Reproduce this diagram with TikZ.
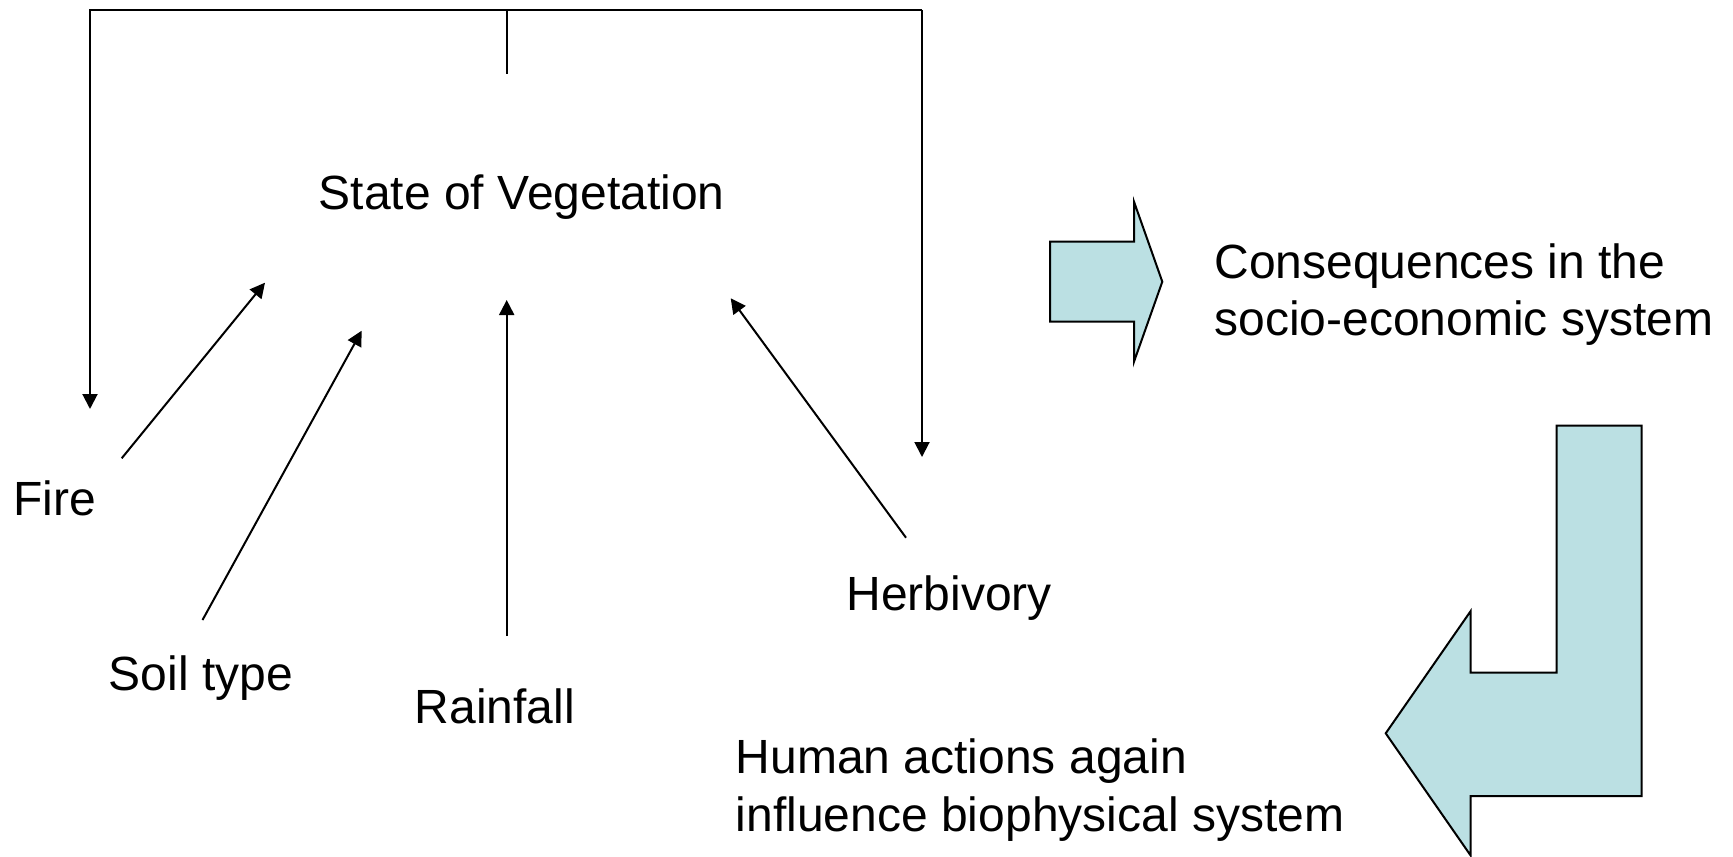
\documentclass[tikz,border=0pt]{standalone}
\usepackage{fontspec}
\setmainfont{Liberation Sans}
\usetikzlibrary{arrows.meta, positioning}
\definecolor{blockfill}{RGB}{187,224,227}

\begin{document}
\begin{tikzpicture}[x=0.5pt, y=-0.5pt,
    % Styles
    factor/.style={font=\fontsize{24}{28.9}\selectfont, inner sep=0pt, anchor=base west, align=left},
    link/.style={-{Triangle[length=7.5pt, width=7.5pt]}, line width=1pt},
    feedback/.style={line width=1pt},
    blockarrow/.style={draw, line width=1pt, fill=blockfill, line join=miter}
]
    \useasboundingbox (0,0) rectangle (1733,856);

    % Central state
    \node[factor, anchor=base] (state) at (521.7,209) {State of Vegetation};

    % Driving factors
    \node[factor] (fire) at (13,515) {Fire};
    \node[factor] (soil) at (108.5,690) {Soil type};
    \node[factor] (rain) at (414.5,723) {Rainfall};
    \node[factor] (herb) at (846,610) {Herbivory};

    % Outcome texts (base is the last line)
    \node[factor] (conseq) at (1214,335.8) {Consequences in the\\socio-economic system};
    \node[factor] (human) at (735.5,831) {Human actions again\\influence biophysical system};

    % Arrow end points
    \coordinate (fire start) at (121.7,458.3);
    \coordinate (fire end) at (265,282.7);
    \coordinate (soil start) at (202.5,620);
    \coordinate (soil end) at (361.7,330.7);
    \coordinate (rain start) at (506.7,636);
    \coordinate (rain end) at (506.7,300);
    \coordinate (herb start) at (906,537.7);
    \coordinate (herb end) at (730.7,298.3);

    % Feedback frame over the state
    \coordinate (stub) at (506.7,74);
    \coordinate (frame left) at (90,10);
    \coordinate (frame right) at (922,10);
    \coordinate (fire drop) at (90,409);
    \coordinate (herb drop) at (922,457);

    % Arrows into the state
    \draw[link] (fire start) -- (fire end);
    \draw[link] (soil start) -- (soil end);
    \draw[link] (rain start) -- (rain end);
    \draw[link] (herb start) -- (herb end);

    % Arrows back to the factors
    \draw[feedback] (stub) -- (stub |- frame left);
    \draw[link] (frame right) -- (frame left) -- (fire drop);
    \draw[link] (frame right) -- (herb drop);

    % Block arrows
    \draw[blockarrow] (1050,241.7) -- (1134,241.7) -- (1134,201.7) -- (1162.3,281.7)
        -- (1134,361.7) -- (1134,321.7) -- (1050,321.7) -- cycle;
    \draw[blockarrow] (1556.7,425.7) -- (1641.7,425.7) -- (1641.7,796) -- (1470.7,796)
        -- (1470.7,855.6) -- (1385.7,733.3) -- (1470.7,611) -- (1470.7,672.7)
        -- (1556.7,672.7) -- cycle;
\end{tikzpicture}
\end{document}
